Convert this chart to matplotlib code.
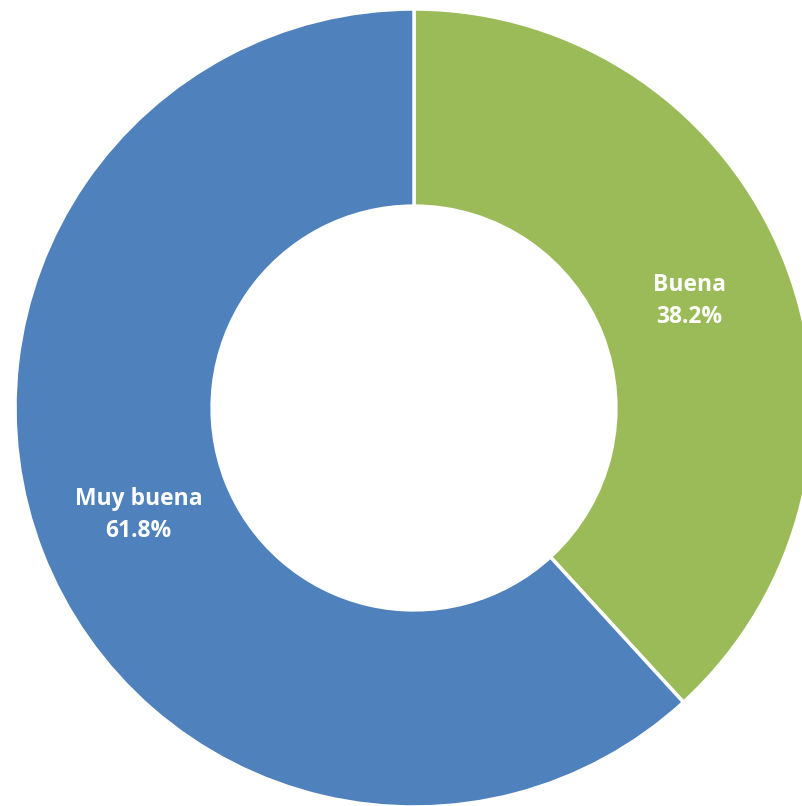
import numpy as np
import matplotlib
matplotlib.use("Agg")
import matplotlib.pyplot as plt

# data
labels = ["Buena", "Muy buena"]
values = [38.2, 61.8]
colors = ["#9BBB59", "#4F81BD"]

fig = plt.figure(figsize=(8.02, 8.06), dpi=100)
ax = fig.add_axes([0, 0, 1, 1])

wedges, _ = ax.pie(values, colors=colors, startangle=90, counterclock=False,
                   radius=1.0, wedgeprops=dict(width=0.494, edgecolor="white", linewidth=2.5))

# place the donut like the reference (center at ~414,408 px, radius ~399 px)
s = 399.0
ax.set_aspect("auto")
ax.set_xlim(-414 / s, (802 - 414) / s)
ax.set_ylim(-(806 - 408) / s, 408 / s)
ax.axis("off")

for w, lab, v in zip(wedges, labels, values):
    ang = np.deg2rad((w.theta1 + w.theta2) / 2)
    r = 0.74
    ax.text(r * np.cos(ang), r * np.sin(ang), f"{lab}\n{v:.1f}%",
            ha="center", va="center", color="white", fontsize=16.5,
            fontweight="bold", family="Open Sans", linespacing=1.4)

fig.savefig("out.png", dpi=100)
